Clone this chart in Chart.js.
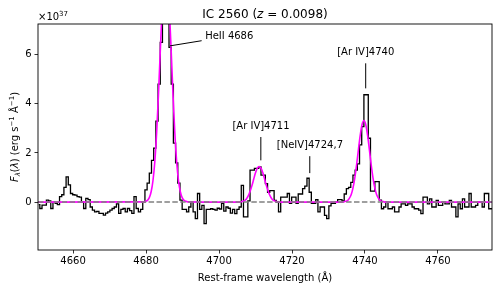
<!DOCTYPE html>
<html><head><meta charset="utf-8">
<script src="https://cdn.jsdelivr.net/npm/chart.js@4.4.1/dist/chart.umd.min.js"></script>
<style>html,body{margin:0;padding:0;background:#fff;} #wrap{width:501px;height:294px;position:relative;}</style>
</head><body><div id="wrap"><canvas id="c" width="501" height="294"></canvas></div>
<script>
// Rest-frame wavelength grid (Å)
const wavelength = [
 4650.6,4651.2,4651.8,4652.4,4653.0,4653.6,4654.2,4654.8,4655.4,4656.0,
 4656.6,4657.2,4657.8,4658.4,4659.0,4659.6,4660.2,4660.8,4661.4,4662.0,
 4662.6,4663.2,4663.8,4664.4,4665.0,4665.6,4666.2,4666.8,4667.4,4668.0,
 4668.6,4669.2,4669.8,4670.4,4671.0,4671.6,4672.2,4672.8,4673.4,4674.0,
 4674.6,4675.2,4675.8,4676.4,4677.0,4677.6,4678.2,4678.8,4679.4,4680.0,
 4680.6,4681.2,4681.8,4682.4,4683.0,4683.6,4684.2,4684.8,4685.4,4686.0,
 4686.6,4687.2,4687.8,4688.4,4689.0,4689.6,4690.2,4690.8,4691.4,4692.0,
 4692.6,4693.2,4693.8,4694.4,4695.0,4695.6,4696.2,4696.8,4697.4,4698.0,
 4698.6,4699.2,4699.8,4700.4,4701.0,4701.6,4702.2,4702.8,4703.4,4704.0,
 4704.6,4705.2,4705.8,4706.4,4707.0,4707.6,4708.2,4708.8,4709.4,4710.0,
 4710.6,4711.2,4711.8,4712.4,4713.0,4713.6,4714.2,4714.8,4715.4,4716.0,
 4716.6,4717.2,4717.8,4718.4,4719.0,4719.6,4720.2,4720.8,4721.4,4722.0,
 4722.6,4723.2,4723.8,4724.4,4725.0,4725.6,4726.2,4726.8,4727.4,4728.0,
 4728.6,4729.2,4729.8,4730.4,4731.0,4731.6,4732.2,4732.8,4733.4,4734.0,
 4734.6,4735.2,4735.8,4736.4,4737.0,4737.6,4738.2,4738.8,4739.4,4740.0,
 4740.6,4741.2,4741.8,4742.4,4743.0,4743.6,4744.2,4744.8,4745.4,4746.0,
 4746.6,4747.2,4747.8,4748.4,4749.0,4749.6,4750.2,4750.8,4751.4,4752.0,
 4752.6,4753.2,4753.8,4754.4,4755.0,4755.6,4756.2,4756.8,4757.4,4758.0,
 4758.6,4759.2,4759.8,4760.4,4761.0,4761.6,4762.2,4762.8,4763.4,4764.0,
 4764.6,4765.2,4765.8,4766.4,4767.0,4767.6,4768.2,4768.8,4769.4,4770.0,
 4770.6,4771.2,4771.8,4772.4,4773.0,4773.6,4774.2,4774.8
];
// Observed flux density (units of 1e37 erg s^-1 Å^-1)
const flux = [
 -0.10,-0.26,-0.12,-0.12,0.08,0.05,-0.26,0.00,-0.05,-0.10,
 0.22,0.30,0.60,1.03,0.70,0.35,0.30,0.28,0.22,0.20,
 0.00,-0.26,0.15,0.10,-0.20,-0.33,-0.40,-0.38,-0.46,-0.46,
 -0.53,-0.45,-0.40,-0.33,-0.26,-0.20,-0.07,-0.46,-0.30,-0.26,
 -0.40,-0.26,-0.35,-0.46,0.22,-0.26,-0.40,-0.30,0.00,0.50,
 0.77,1.18,1.70,2.20,3.30,4.80,6.50,9.20,10.50,9.00,
 6.30,4.80,2.40,1.60,0.77,0.08,-0.30,-0.30,-0.40,-0.20,
 0.00,-0.40,-0.67,0.35,-0.30,-0.13,-0.88,-0.30,-0.30,-0.27,
 -0.30,-0.33,-0.25,-0.28,-0.05,-0.37,-0.20,-0.25,-0.45,-0.30,
 -0.47,-0.30,-0.20,0.68,-0.60,-0.60,0.05,1.30,1.30,1.37,
 1.37,1.43,1.10,1.10,0.75,0.40,0.47,0.47,0.07,0.00,
 -0.40,0.20,0.20,0.20,0.35,-0.05,0.20,0.20,-0.05,0.33,
 0.33,0.55,0.65,0.97,0.40,-0.05,-0.05,0.10,-0.40,-0.20,
 -0.20,-0.54,-0.67,-0.15,-0.05,-0.05,0.00,0.10,0.10,0.05,
 0.33,0.55,0.60,0.80,1.10,1.30,1.56,2.33,3.07,4.37,
 4.37,2.60,0.45,0.45,0.83,0.83,0.08,-0.27,-0.20,0.00,
 -0.27,-0.27,-0.20,-0.40,-0.40,-0.20,-0.07,-0.07,-0.13,-0.07,
 -0.07,-0.20,-0.27,-0.27,-0.33,-0.47,0.20,0.20,-0.07,0.13,
 -0.20,-0.20,0.07,-0.13,-0.13,0.00,-0.07,-0.07,0.07,-0.20,
 -0.20,-0.60,-0.07,-0.27,0.13,-0.20,-0.20,0.35,-0.20,-0.20,
 -0.13,0.00,0.00,-0.20,0.35,0.35,-0.27,-0.27
];
// Line-fit model (magenta curve)
const fitWavelength = [
 4650.4,
 4679.4,4679.9,4680.4,4680.9,4681.4,4681.9,4682.4,4682.9,4683.4,4683.9,4684.4,4684.9,4685.4,
 4685.9,4686.4,4686.9,4687.4,4687.9,4688.4,4688.9,4689.4,4689.9,4690.4,4690.9,4691.4,
 4705.5,4706.0,4706.5,4707.0,4707.5,4708.0,4708.5,4709.0,4709.5,4710.0,4710.5,4711.0,
 4711.5,4712.0,4712.5,4713.0,4713.5,4714.0,4714.5,4715.0,4715.5,4716.0,4716.5,
 4733.7,4734.2,4734.7,4735.2,4735.7,4736.2,4736.7,4737.2,4737.7,4738.2,4738.7,4739.2,4739.7,
 4740.2,4740.7,4741.2,4741.7,4742.2,4742.7,4743.2,4743.7,4744.2,4744.7,4745.2,4745.7,
 4774.8
];
const fitFlux = [
 0,
 0.01,0.03,0.07,0.18,0.42,0.87,1.63,2.80,4.35,6.12,7.82,9.04,9.50,
 9.04,7.82,6.12,4.35,2.80,1.63,0.87,0.42,0.18,0.07,0.03,0.01,
 0,0.01,0.03,0.06,0.13,0.25,0.43,0.66,0.93,1.19,1.38,1.45,
 1.38,1.19,0.93,0.66,0.43,0.25,0.13,0.06,0.03,0.01,0,
 0,0.01,0.03,0.06,0.15,0.30,0.57,0.98,1.52,2.14,2.73,3.16,3.32,
 3.16,2.73,2.14,1.52,0.98,0.57,0.30,0.15,0.06,0.03,0.01,0,
 0
];
const xTicks = [4660, 4680, 4700, 4720, 4740, 4760];
const yTicks = [0, 2, 4, 6];
const xRange = [4650.4, 4774.8];
const yRange = [-1.95, 7.25];
const zeroLevel = 0;

const lineLabels = ['HeII 4686', '[Ar IV]4711', '[NeIV]4724,7', '[Ar IV]4740'];

// annotation placement (data coordinates)
const annotationLayout = [
  {tx: 4696.2, ty: 6.76, align: 'left',   from: [4695.24, 6.57], to: [4686.57, 6.36]},
  {tx: 4711.5, ty: 3.09, align: 'center', from: [4711.46, 2.65], to: [4711.46, 1.70]},
  {tx: 4724.9, ty: 2.30, align: 'center', from: [4724.87, 1.87], to: [4724.87, 1.18]},
  {tx: 4740.2, ty: 6.10, align: 'center', from: [4740.19, 5.65], to: [4740.19, 4.63]}
];

const FONT = "'DejaVu Sans', sans-serif";
Chart.defaults.font.family = FONT;
Chart.defaults.font.size = 10;
Chart.defaults.color = '#000';

function drawRich(ctx, segs, x, y, align, size) {
  let total = 0;
  const parts = segs.map(s => {
    const fs = (s.sup || s.sub) ? size * 0.7 : size;
    const font = (s.italic ? 'italic ' : '') + fs + 'px ' + FONT;
    ctx.font = font;
    const w = ctx.measureText(s.t).width;
    total += w;
    return {s, font, w, dy: s.sup ? -size * 0.42 : (s.sub ? size * 0.22 : 0)};
  });
  let cx = align === 'center' ? x - total / 2 : (align === 'right' ? x - total : x);
  ctx.textAlign = 'left';
  ctx.textBaseline = 'alphabetic';
  parts.forEach(p => { ctx.font = p.font; ctx.fillText(p.s.t, cx, y + p.dy); cx += p.w; });
}

const decorPlugin = {
  id: 'decor',
  afterDatasetsDraw(chart) {
    const ctx = chart.ctx, a = chart.chartArea;
    ctx.save();
    ctx.strokeStyle = '#000';
    ctx.lineWidth = 0.9;
    ctx.strokeRect(a.left, a.top, a.right - a.left, a.bottom - a.top);
    ctx.restore();
  },
  afterDraw(chart) {
    const ctx = chart.ctx, a = chart.chartArea;
    const xs = chart.scales.x, ys = chart.scales.y;
    ctx.save();
    ctx.fillStyle = '#000';
    // title
    drawRich(ctx, [{t: 'IC 2560 ('}, {t: 'z', italic: true}, {t: ' = 0.0098)'}], (a.left + a.right) / 2, 18, 'center', 12);
    // offset text
    drawRich(ctx, [{t: '×10'}, {t: '37', sup: true}], a.left, 20, 'left', 10);
    // x label
    drawRich(ctx, [{t: 'Rest-frame wavelength (Å)'}], (a.left + a.right) / 2, 281, 'center', 10);
    // y label
    ctx.save();
    ctx.translate(18, (a.top + a.bottom) / 2);
    ctx.rotate(-Math.PI / 2);
    drawRich(ctx, [{t: 'F', italic: true}, {t: 'λ', italic: true, sub: true}, {t: '('}, {t: 'λ', italic: true},
                   {t: ') (erg s'}, {t: '−1', sup: true}, {t: ' Å'}, {t: '−1', sup: true}, {t: ')'}], 0, 0, 'center', 10);
    ctx.restore();
    // annotations
    ctx.strokeStyle = '#000';
    ctx.lineWidth = 1;
    annotationLayout.forEach((an, i) => {
      ctx.beginPath();
      ctx.moveTo(xs.getPixelForValue(an.from[0]), ys.getPixelForValue(an.from[1]));
      ctx.lineTo(xs.getPixelForValue(an.to[0]), ys.getPixelForValue(an.to[1]));
      ctx.stroke();
      ctx.font = '10px ' + FONT;
      ctx.textAlign = an.align;
      ctx.textBaseline = 'middle';
      ctx.fillText(lineLabels[i], xs.getPixelForValue(an.tx), ys.getPixelForValue(an.ty));
    });
    ctx.restore();
  }
};

new Chart(document.getElementById('c'), {
  type: 'line',
  data: {
    datasets: [
      {label: 'zero', data: xRange.map(v => ({x: v, y: zeroLevel})), borderColor: '#808080', borderWidth: 1.5,
       borderDash: [5.5, 2.4], pointRadius: 0, order: 0},
      {label: 'fit', data: fitWavelength.map((w, i) => ({x: w, y: fitFlux[i]})), borderColor: '#ff00ff', borderWidth: 1.6,
       pointRadius: 0, cubicInterpolationMode: 'monotone', order: 1},
      {label: 'spectrum', data: wavelength.map((w, i) => ({x: w, y: flux[i]})), borderColor: '#000', borderWidth: 1.3,
       pointRadius: 0, stepped: 'middle', order: 2}
    ]
  },
  options: {
    responsive: false, animation: false, devicePixelRatio: 1,
    layout: {padding: {left: 0, right: 9, top: 24, bottom: 0}},
    plugins: {legend: {display: false}, tooltip: {enabled: false}, title: {display: false}},
    scales: {
      x: {
        type: 'linear', min: xRange[0], max: xRange[1],
        afterBuildTicks: s => { s.ticks = xTicks.map(v => ({value: v})); },
        afterFit: s => { s.height = 44; },
        ticks: {callback: v => String(v), padding: 2, maxRotation: 0, autoSkip: false, color: '#000', font: {size: 10}},
        grid: {display: true, drawOnChartArea: false, drawTicks: true, tickLength: 3.5, color: '#000', lineWidth: 0.8},
        border: {display: false}
      },
      y: {
        type: 'linear', min: yRange[0], max: yRange[1],
        afterBuildTicks: s => { s.ticks = yTicks.map(v => ({value: v})); },
        afterFit: s => { s.width = 38; },
        ticks: {callback: v => String(v), padding: 3, color: '#000', font: {size: 10}},
        grid: {display: true, drawOnChartArea: false, drawTicks: true, tickLength: 3.5, color: '#000', lineWidth: 0.8},
        border: {display: false}
      }
    }
  },
  plugins: [decorPlugin]
});
</script>
</body></html>
